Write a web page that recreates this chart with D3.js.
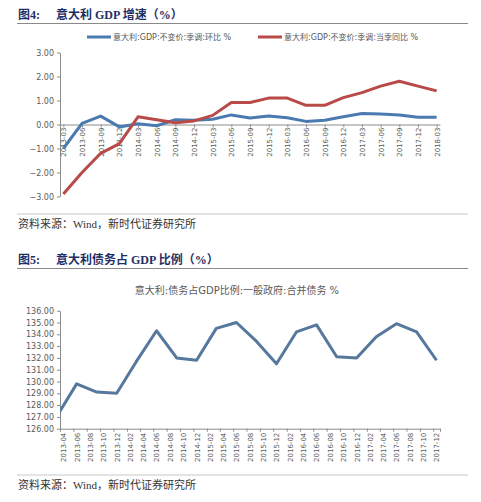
<!DOCTYPE html>
<html>
<head>
<meta charset="utf-8">
<script src="https://cdn.jsdelivr.net/npm/d3@7"></script>
<style>
  body { margin: 0; background: #fff; }
  svg { display: block; }
  .tick text { fill: #595959; font-family: "DejaVu Sans", sans-serif; }
</style>
</head>
<body>
<svg id="chart" width="481" height="502"></svg>
<script>
// Figure 4: Italy GDP growth, quarterly
const gdpQuarters = ['2013-03', '2013-06', '2013-09', '2013-12', '2014-03', '2014-06', '2014-09',
    '2014-12', '2015-03', '2015-06', '2015-09', '2015-12', '2016-03', '2016-06', '2016-09',
    '2016-12', '2017-03', '2017-06', '2017-09', '2017-12', '2018-03'];
const gdpQoq = [-1.0, 0.05, 0.35, -0.1, 0.03, -0.05, 0.2, 0.18, 0.22, 0.4, 0.27, 0.35, 0.28,
    0.13, 0.18, 0.32, 0.46, 0.44, 0.4, 0.3, 0.3];
const gdpYoy = [-2.9, -2.0, -1.2, -0.8, 0.32, 0.2, 0.07, 0.15, 0.38, 0.92, 0.92, 1.1, 1.1,
    0.8, 0.8, 1.12, 1.33, 1.6, 1.8, 1.6, 1.4];
const gdpTicks = [-3, -2, -1, 0, 1, 2, 3];

// Figure 5: Italy government debt / GDP, quarterly on a monthly date axis
const debtQuarters = ['2013-03', '2013-06', '2013-09', '2013-12', '2014-03', '2014-06', '2014-09',
    '2014-12', '2015-03', '2015-06', '2015-09', '2015-12', '2016-03', '2016-06', '2016-09',
    '2016-12', '2017-03', '2017-06', '2017-09', '2017-12'];
const debtRatio = [127.0, 129.8, 129.1, 129.0, 131.7, 134.3, 132.0, 131.8, 134.5, 135.0, 133.4,
    131.5, 134.2, 134.8, 132.1, 132.0, 133.8, 134.9, 134.2, 131.8];
const debtTicks = [126, 127, 128, 129, 130, 131, 132, 133, 134, 135, 136];

const svg = d3.select('#chart');
const navy = '#1f2f66';
const axisGrey = '#8c8c8c';
const cjk = '"Liberation Serif", "Noto Sans CJK SC", serif';
const sans = '"DejaVu Sans", "Noto Sans CJK SC", sans-serif';

function header(y, label, title) {
    svg.append('text')
        .attr('x', 18).attr('y', y)
        .style('font-family', cjk).style('font-weight', 'bold')
        .style('font-size', '12px').style('fill', navy)
        .text(label);
    svg.append('text')
        .attr('x', 56).attr('y', y)
        .style('font-family', cjk).style('font-weight', 'bold')
        .style('font-size', '12px').style('fill', navy)
        .text(title);
    svg.append('line')
        .attr('x1', 17).attr('x2', 468)
        .attr('y1', y + 4.5).attr('y2', y + 4.5)
        .style('stroke', '#8a8a8a').style('stroke-width', 1);
}

function source(y) {
    svg.append('line')
        .attr('x1', 17).attr('x2', 468)
        .attr('y1', y - 14).attr('y2', y - 14)
        .style('stroke', '#c8c8c8').style('stroke-width', 1);
    svg.append('text')
        .attr('x', 18).attr('y', y)
        .style('font-family', cjk).style('font-size', '11px').style('fill', '#333')
        .text('资料来源：Wind，新时代证券研究所');
}

function styleAxis(g) {
    g.selectAll('path, line').style('stroke', axisGrey);
}

// ---------- Figure 4 ----------
header(19, '图4:', '意大利 GDP 增速（%）');

const x1 = d3.scalePoint().domain(gdpQuarters).range([60, 440]).padding(0.18);
const y1 = d3.scaleLinear().domain([-3, 3]).range([196.5, 52.5]);

svg.append('g')
    .attr('transform', 'translate(60,0)')
    .call(d3.axisLeft(y1).tickValues(gdpTicks).tickSize(3).tickSizeOuter(0)
        .tickFormat(d3.format('.2f')))
    .call(styleAxis)
    .call(g => g.selectAll('text').style('font-size', '8px').attr('x', -6));

const xAxis1 = svg.append('g')
    .attr('transform', `translate(0,${y1(0)})`)
    .call(d3.axisBottom(x1).tickSize(3).tickSizeOuter(0))
    .call(styleAxis);
xAxis1.selectAll('text')
    .style('font-size', '7px')
    .attr('text-anchor', 'end')
    .attr('transform', 'rotate(-90)')
    .attr('x', -3).attr('y', 0).attr('dy', '0.35em');

const line1 = d3.line().x((d, i) => x1(gdpQuarters[i])).y(d => y1(d));

const gdpSeries = [
    { name: '意大利:GDP:不变价:季调:环比 %', values: gdpQoq, color: '#4a7ab0', lx: 87 },
    { name: '意大利:GDP:不变价:季调:当季同比 %', values: gdpYoy, color: '#b84a47', lx: 258 }
];

gdpSeries.forEach(s => {
    svg.append('path')
        .datum(s.values)
        .attr('d', line1)
        .style('fill', 'none')
        .style('stroke', s.color)
        .style('stroke-width', 3)
        .style('stroke-linejoin', 'round');
});

// legend
const legend = svg.append('g').attr('class', 'legend');
gdpSeries.forEach(s => {
    legend.append('line')
        .attr('x1', s.lx).attr('x2', s.lx + 24)
        .attr('y1', 37).attr('y2', 37)
        .style('stroke', s.color).style('stroke-width', 3);
    legend.append('text')
        .attr('x', s.lx + 26).attr('y', 40)
        .style('font-family', sans).style('font-size', '8px').style('fill', '#595959')
        .text(s.name);
});

source(228);

// ---------- Figure 5 ----------
header(264, '图5:', '意大利债务占 GDP 比例（%）');

svg.append('text')
    .attr('x', 237).attr('y', 294)
    .attr('text-anchor', 'middle')
    .style('font-family', sans).style('font-size', '10px').style('fill', '#595959')
    .text('意大利:债务占GDP比例:一般政府:合并债务 %');

const parseMonth = d3.timeParse('%Y-%m');
const midMonth = d => d3.timeDay.offset(d, 15);

const x2 = d3.scaleTime()
    .domain([parseMonth('2013-04'), parseMonth('2018-01')])
    .range([60, 440]);
const y2 = d3.scaleLinear().domain([126, 136]).range([428.7, 310.7]);

// every second month starting at 2013-04
const labelMonths = d3.timeMonth.range(parseMonth('2013-04'), parseMonth('2018-01'), 2);

svg.append('g')
    .attr('transform', 'translate(60,0)')
    .call(d3.axisLeft(y2).tickValues(debtTicks).tickSize(3).tickSizeOuter(0)
        .tickFormat(d3.format('.2f')))
    .call(styleAxis)
    .call(g => g.selectAll('text').style('font-size', '8px').attr('x', -6));

// tick marks sit on month boundaries
svg.append('g')
    .attr('transform', `translate(0,${y2(126)})`)
    .call(d3.axisBottom(x2).tickValues(labelMonths.concat([parseMonth('2018-01')]))
        .tickSize(3).tickSizeOuter(0).tickFormat(''))
    .call(styleAxis);

// labels sit at the middle of each month
const xLabels2 = svg.append('g')
    .attr('transform', `translate(0,${y2(126)})`)
    .call(d3.axisBottom(x2).tickValues(labelMonths.map(midMonth))
        .tickSize(0).tickFormat(d3.timeFormat('%Y-%m')));
xLabels2.select('.domain').remove();
xLabels2.selectAll('text')
    .style('font-size', '7px')
    .attr('text-anchor', 'end')
    .attr('transform', 'rotate(-90)')
    .attr('x', -4).attr('y', 0).attr('dy', '0.35em');

svg.append('clipPath').attr('id', 'plot2')
    .append('rect')
    .attr('x', 60).attr('y', 300).attr('width', 382).attr('height', 132);

const line2 = d3.line()
    .x((d, i) => x2(midMonth(parseMonth(debtQuarters[i]))))
    .y(d => y2(d));

svg.append('path')
    .datum(debtRatio)
    .attr('d', line2)
    .attr('clip-path', 'url(#plot2)')
    .style('fill', 'none')
    .style('stroke', '#56789d')
    .style('stroke-width', 3)
    .style('stroke-linejoin', 'round');

source(489);
</script>
</body>
</html>
